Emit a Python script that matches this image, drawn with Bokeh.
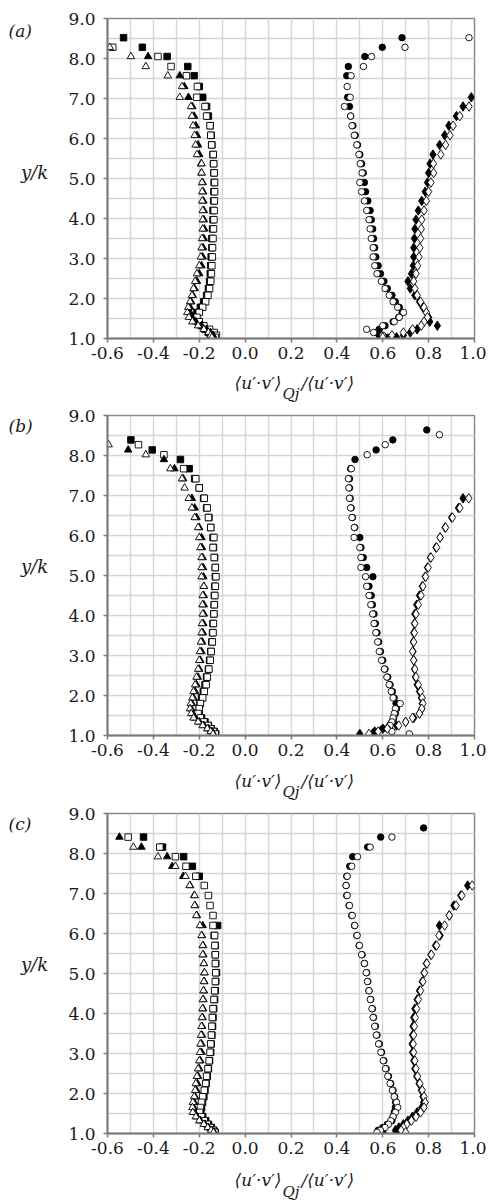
from bokeh.plotting import figure
from bokeh.layouts import column, row
from bokeh.models import FixedTicker, Label, Range1d, PrintfTickFormatter
from bokeh.embed import file_html
from bokeh.resources import INLINE

# ---------------- axis ticks ----------------
X_TICKS = [-0.6, -0.4, -0.2, 0.0, 0.2, 0.4, 0.6, 0.8, 1.0]
Y_TICKS = [1.0, 2.0, 3.0, 4.0, 5.0, 6.0, 7.0, 8.0, 9.0]
X_GRID = [-0.6, -0.5, -0.4, -0.3, -0.2, -0.1, 0.0, 0.1, 0.2, 0.3, 0.4, 0.5, 0.6, 0.7, 0.8, 0.9, 1.0]
Y_GRID = [1.0, 1.5, 2.0, 2.5, 3.0, 3.5, 4.0, 4.5, 5.0, 5.5, 6.0, 6.5, 7.0, 7.5, 8.0, 8.5, 9.0]
PANEL_LETTERS = ["(a)", "(b)", "(c)"]
Y_TITLE = "y/k"
X_TITLE_MAIN = "\u27e8u\u2032\u00b7v\u2032\u27e9"
X_TITLE_SUB = "Qj"
X_TITLE_END = "/\u27e8u\u2032\u00b7v\u2032\u27e9"

# ---------------- panel (a) ----------------
YA = [8.52, 8.28, 8.05, 7.80, 7.57, 7.30, 7.03, 6.80, 6.56, 6.32,
      6.08, 5.84, 5.60, 5.37, 5.14, 4.90, 4.67, 4.44, 4.20, 3.97,
      3.74, 3.50, 3.27, 3.04, 2.82, 2.62, 2.43, 2.25, 2.08, 1.92,
      1.78, 1.65, 1.53, 1.42, 1.32, 1.23, 1.15, 1.08, 1.03]
A_sqF = [-0.530, -0.448, -0.340, -0.250, -0.222, -0.200, -0.185, -0.168, -0.160, -0.152,
         -0.148, -0.145, -0.140, -0.138, -0.136, -0.135, -0.136, -0.137, -0.140, -0.140,
         -0.142, -0.145, -0.145, -0.148, -0.150, -0.152, -0.155, -0.160, -0.168, -0.180,
         -0.195, -0.210, -0.215, -0.205, -0.190, -0.175, -0.160, -0.150, -0.145]
A_sqO = [None, -0.577, -0.380, -0.323, -0.256, -0.208, -0.211, -0.175, -0.168, -0.153,
         -0.150, -0.146, -0.139, -0.137, -0.135, -0.133, -0.133, -0.134, -0.135, -0.136,
         -0.138, -0.140, -0.142, -0.143, -0.145, -0.147, -0.150, -0.155, -0.162, -0.172,
         -0.185, -0.200, -0.210, -0.200, -0.180, -0.155, -0.135, -0.125, -0.130]
A_trF = [None, None, -0.423, None, -0.285, -0.265, -0.247, -0.230, -0.222, -0.215,
         -0.210, -0.205, -0.200, -0.192, -0.190, -0.185, -0.183, -0.182, -0.180, -0.180,
         -0.178, -0.180, -0.183, -0.185, -0.190, -0.200, -0.210, -0.220, -0.228, -0.235,
         -0.240, -0.240, -0.232, -0.215, -0.190, -0.168, -0.152, -0.140, -0.138]
A_trO = [None, -0.590, -0.498, -0.433, -0.337, -0.275, -0.285, -0.236, -0.232, -0.227,
         -0.220, -0.216, -0.210, -0.190, -0.190, -0.188, -0.187, -0.187, -0.185, -0.185,
         -0.185, -0.188, -0.190, -0.193, -0.200, -0.210, -0.218, -0.225, -0.232, -0.240,
         -0.248, -0.252, -0.245, -0.230, -0.205, -0.180, -0.160, -0.150, -0.145]
A_ciF = [0.684, 0.598, 0.522, 0.450, 0.443, None, 0.447, 0.455, 0.460, 0.470,
         0.480, 0.490, 0.500, 0.508, 0.515, 0.520, 0.525, 0.535, 0.545, 0.550,
         0.556, 0.560, 0.565, 0.570, 0.580, 0.590, 0.605, 0.620, 0.640, 0.655,
         0.672, 0.685, 0.670, 0.645, 0.610, 0.585, 0.570, 0.585, 0.620]
A_ciO = [0.976, 0.697, 0.551, 0.516, 0.462, 0.445, 0.458, 0.433, 0.460, 0.466,
         0.476, 0.487, 0.496, 0.502, 0.510, 0.500, 0.508, 0.520, 0.530, 0.540,
         0.545, 0.550, 0.558, 0.558, 0.565, 0.575, 0.594, 0.610, 0.628, 0.645,
         0.665, 0.690, 0.672, 0.650, 0.600, 0.530, 0.560, 0.600, 0.640]
A_diF = [None, None, None, None, None, None, 0.986, 0.950, 0.921, 0.888,
         0.870, 0.848, 0.819, 0.806, 0.800, 0.795, 0.785, 0.770, 0.755, 0.745,
         0.740, 0.738, 0.735, 0.735, 0.733, 0.725, 0.710, 0.720, 0.740, 0.760,
         0.775, 0.790, 0.800, 0.805, 0.838, 0.750, 0.720, 0.690, 0.660]
A_diO = [None, None, None, None, None, None, None, 0.976, 0.936, 0.907,
         0.893, 0.874, 0.853, 0.821, 0.822, 0.810, 0.800, 0.790, 0.780, 0.770,
         0.768, 0.765, 0.762, 0.758, 0.752, 0.745, 0.735, 0.740, 0.750, 0.765,
         0.780, 0.790, 0.795, 0.780, 0.768, 0.730, 0.690, 0.640, 0.600]

# ---------------- panel (b) ----------------
YB = [8.64, 8.52, 8.39, 8.27, 8.14, 8.02, 7.90, 7.67, 7.42, 7.19,
      6.93, 6.69, 6.45, 6.20, 5.95, 5.70, 5.45, 5.20, 4.97, 4.73,
      4.50, 4.27, 4.04, 3.80, 3.57, 3.34, 3.10, 2.88, 2.66, 2.46,
      2.27, 2.10, 1.94, 1.80, 1.67, 1.55, 1.44, 1.34, 1.25, 1.17,
      1.10, 1.04]
B_sqF = [None, None, -0.498, None, -0.405, None, -0.282, -0.244, -0.220, -0.200,
         -0.180, -0.168, -0.158, -0.150, -0.140, -0.138, -0.133, -0.130, -0.130, -0.132,
         -0.134, -0.135, -0.137, -0.140, -0.142, -0.145, -0.150, -0.155, -0.160, -0.168,
         -0.175, -0.182, -0.190, -0.197, -0.200, -0.200, -0.190, -0.175, -0.160, -0.148,
         -0.135, -0.128]
B_sqO = [None, None, None, -0.465, None, -0.354, None, -0.268, -0.215, -0.200,
         -0.178, -0.165, -0.160, -0.150, -0.136, -0.140, -0.135, -0.130, -0.127, -0.130,
         -0.132, -0.134, -0.136, -0.138, -0.140, -0.143, -0.148, -0.152, -0.158, -0.165,
         -0.170, -0.178, -0.185, -0.195, -0.200, -0.205, -0.195, -0.180, -0.162, -0.150,
         -0.138, -0.130]
B_trF = [None, None, None, None, -0.510, None, -0.354, -0.308, -0.270, None,
         -0.232, -0.220, -0.212, -0.200, -0.190, -0.188, -0.185, -0.183, -0.182, -0.180,
         -0.180, -0.180, -0.180, -0.182, -0.184, -0.187, -0.190, -0.195, -0.200, -0.206,
         -0.212, -0.218, -0.225, -0.232, -0.235, -0.230, -0.218, -0.200, -0.180, -0.160,
         -0.145, -0.138]
B_trO = [None, None, None, -0.595, None, -0.433, None, -0.326, -0.275, -0.264,
         -0.246, -0.232, -0.220, -0.205, -0.200, -0.195, -0.190, -0.190, -0.190, -0.180,
         -0.185, -0.186, -0.185, -0.188, -0.190, -0.193, -0.197, -0.200, -0.205, -0.212,
         -0.218, -0.225, -0.230, -0.237, -0.240, -0.235, -0.225, -0.205, -0.185, -0.165,
         -0.150, -0.140]
B_ciF = [0.792, None, 0.644, None, 0.571, None, 0.479, 0.460, 0.455, 0.455,
         0.458, 0.462, 0.468, 0.478, 0.500, 0.505, 0.515, 0.530, 0.557, 0.540,
         0.550, 0.555, 0.562, 0.568, 0.575, 0.582, 0.590, 0.600, 0.610, 0.622,
         0.632, 0.642, 0.650, 0.658, 0.660, 0.655, 0.648, 0.640, 0.630, 0.600,
         0.565, None]
B_ciO = [None, 0.847, None, 0.611, None, 0.532, None, 0.463, 0.450, 0.452,
         0.455, 0.460, 0.466, 0.476, 0.475, 0.500, 0.505, 0.505, 0.525, 0.530,
         0.540, 0.548, 0.556, 0.562, 0.570, 0.578, 0.585, 0.595, 0.607, 0.618,
         0.628, 0.637, 0.645, 0.676, 0.655, 0.650, 0.645, 0.640, 0.632, 0.620,
         0.640, 0.716]
B_diF = [None, None, None, None, None, None, None, None, None, None,
         0.950, 0.930, 0.900, 0.872, 0.850, 0.832, 0.808, 0.795, 0.785, 0.772,
         0.760, 0.748, 0.740, 0.738, 0.735, 0.733, 0.732, 0.735, 0.738, 0.742,
         0.750, 0.760, 0.768, 0.772, 0.770, 0.760, 0.735, 0.700, 0.660, 0.600,
         0.565, 0.500]
B_diO = [None, None, None, None, None, None, None, None, None, None,
         0.975, 0.936, 0.904, 0.874, 0.850, 0.835, 0.810, 0.798, 0.787, 0.775,
         0.767, 0.755, 0.745, 0.740, 0.738, 0.735, 0.730, 0.735, 0.740, 0.745,
         0.755, 0.765, 0.772, 0.775, 0.770, 0.760, 0.730, 0.700, 0.670, 0.620,
         0.580, 0.540]

# ---------------- panel (c) ----------------
YC = [8.64, 8.41, 8.16, 7.92, 7.68, 7.43, 7.20, 6.95, 6.70, 6.45,
      6.20, 5.95, 5.70, 5.47, 5.25, 5.02, 4.80, 4.57, 4.35, 4.12,
      3.90, 3.68, 3.46, 3.24, 3.03, 2.82, 2.62, 2.43, 2.25, 2.08,
      1.92, 1.78, 1.65, 1.53, 1.42, 1.32, 1.23, 1.15, 1.08, 1.03]
C_sqF = [None, -0.443, -0.360, -0.268, -0.230, -0.200, None, None, None, None,
         -0.120, -0.135, -0.130, -0.130, -0.128, -0.125, -0.128, -0.130, -0.133, -0.137,
         -0.140, -0.142, -0.145, -0.148, -0.150, -0.155, -0.160, -0.165, -0.170, -0.175,
         -0.180, -0.186, -0.190, -0.193, -0.185, -0.172, -0.160, -0.148, -0.137, -0.130]
C_sqO = [None, -0.510, -0.372, -0.304, -0.258, -0.215, -0.178, -0.160, -0.153, -0.140,
         -0.140, -0.133, -0.132, -0.130, -0.130, -0.128, -0.130, -0.133, -0.136, -0.140,
         -0.143, -0.145, -0.147, -0.150, -0.153, -0.157, -0.162, -0.168, -0.172, -0.178,
         -0.185, -0.190, -0.195, -0.198, -0.190, -0.178, -0.165, -0.152, -0.140, -0.132]
C_trF = [None, -0.548, -0.452, -0.340, -0.318, -0.270, -0.240, -0.222, -0.218, -0.210,
         -0.185, -0.188, -0.183, -0.182, -0.180, -0.178, -0.178, -0.180, -0.182, -0.183,
         -0.185, -0.187, -0.188, -0.190, -0.190, -0.195, -0.200, -0.205, -0.208, -0.212,
         -0.218, -0.222, -0.225, -0.222, -0.210, -0.195, -0.175, -0.160, -0.145, -0.135]
C_trO = [None, None, -0.487, -0.380, -0.304, -0.260, -0.242, -0.220, -0.220, -0.213,
         -0.197, -0.190, -0.185, -0.185, -0.180, -0.177, -0.180, -0.182, -0.184, -0.186,
         -0.188, -0.190, -0.192, -0.195, -0.197, -0.200, -0.205, -0.210, -0.215, -0.218,
         -0.222, -0.228, -0.230, -0.228, -0.215, -0.200, -0.180, -0.163, -0.148, -0.138]
C_ciF = [0.778, 0.591, 0.534, 0.469, 0.456, 0.443, 0.440, 0.443, 0.453, 0.465,
         0.477, 0.487, 0.497, 0.510, 0.520, 0.530, 0.535, 0.540, 0.548, 0.555,
         0.560, 0.568, 0.575, 0.585, 0.595, 0.605, 0.615, 0.625, 0.635, 0.645,
         0.652, 0.656, 0.655, 0.650, 0.645, 0.640, 0.620, 0.600, 0.580, 0.600]
C_ciO = [None, 0.640, 0.545, 0.490, 0.465, 0.445, 0.440, 0.445, 0.455, 0.467,
         0.478, 0.488, 0.498, 0.508, 0.520, 0.528, 0.533, 0.540, 0.546, 0.553,
         0.558, 0.565, 0.572, 0.582, 0.592, 0.602, 0.612, 0.622, 0.632, 0.642,
         0.650, 0.660, 0.665, 0.655, 0.645, 0.635, 0.625, 0.610, 0.590, 0.575]
C_diF = [None, None, None, None, None, None, 0.970, 0.940, 0.910, 0.890,
         0.847, 0.850, 0.830, 0.810, 0.790, 0.780, 0.772, 0.760, 0.750, 0.740,
         0.735, 0.732, 0.730, 0.728, 0.730, 0.735, 0.740, 0.748, 0.758, 0.768,
         0.775, 0.778, 0.770, 0.750, 0.730, 0.710, 0.690, 0.670, 0.655, 0.660]
C_diO = [None, None, None, None, None, None, 0.990, 0.945, 0.920, 0.890,
         0.870, 0.845, 0.835, 0.812, 0.792, 0.782, 0.775, 0.765, 0.755, 0.748,
         0.742, 0.738, 0.735, 0.733, 0.735, 0.740, 0.745, 0.752, 0.762, 0.772,
         0.780, 0.785, 0.780, 0.765, 0.745, 0.725, 0.705, 0.690, 0.680, 0.700]

PANELS = [
    (YA, [A_sqF, A_sqO, A_trF, A_trO, A_ciF, A_ciO, A_diF, A_diO]),
    (YB, [B_sqF, B_sqO, B_trF, B_trO, B_ciF, B_ciO, B_diF, B_diO]),
    (YC, [C_sqF, C_sqO, C_trF, C_trO, C_ciF, C_ciO, C_diF, C_diO]),
]
STYLES = [("square", True, 6.5), ("square", False, 6.5),
          ("triangle", True, 7.5), ("triangle", False, 7.5),
          ("circle", True, 6.5), ("circle", False, 6.5),
          ("diamond", True, 9.5), ("diamond", False, 9.5)]

SERIF = "DejaVu Serif"
TXT = "#1a1a1a"
LEFT_W = 65                      # strip holding panel letter and y title
FRAME_W, FRAME_H = 371, 320
BORDER_L, BORDER_R = 38, 12
FIG_W = BORDER_L + FRAME_W + BORDER_R
FULL_W = LEFT_W + FIG_W
TOP_BORDERS = [18, 12, 12]
BOTTOM_BORDER = 32
STRIP_H = [33, 34, 37]           # strips holding the x titles
STRIP_Y = [(12, 23), (13, 24), (14, 26)]
LETTER_Y = [3, 0, 0]             # top of the panel letter inside the left strip


def blank(w, h):
    f = figure(width=w, height=h, x_range=Range1d(0, w), y_range=Range1d(h, 0),
               x_axis_type=None, y_axis_type=None, output_backend="svg",
               toolbar_location=None, min_border=0)
    f.title.visible = False
    f.outline_line_color = None
    f.background_fill_color = "white"
    f.border_fill_color = "white"
    return f


def add_text(f, x, y, text, size, align="left", baseline="middle"):
    f.add_layout(Label(x=x, y=y, text=text, text_font=SERIF, text_font_size=size,
                       text_font_style="italic", text_color=TXT,
                       text_align=align, text_baseline=baseline))


items = []
for i, (levels, series) in enumerate(PANELS):
    tb = TOP_BORDERS[i]
    fig_h = tb + FRAME_H + BOTTOM_BORDER
    p = figure(width=FIG_W, height=fig_h,
               x_range=Range1d(-0.6, 1.0), y_range=Range1d(1.0, 9.0),
               output_backend="svg", toolbar_location=None,
               min_border_left=BORDER_L, min_border_right=BORDER_R,
               min_border_top=tb, min_border_bottom=BOTTOM_BORDER)
    p.title.visible = False
    p.background_fill_color = "white"
    p.border_fill_color = "white"
    p.outline_line_color = "#8a8a8a"
    p.outline_line_width = 1.5

    p.xaxis.ticker = FixedTicker(ticks=X_TICKS)
    p.yaxis.ticker = FixedTicker(ticks=Y_TICKS)
    p.xaxis.formatter = PrintfTickFormatter(format="%.1f")
    p.yaxis.formatter = PrintfTickFormatter(format="%.1f")
    for ax in (p.xaxis, p.yaxis):
        ax.axis_line_color = "#7a7a7a"
        ax.axis_line_width = 2
        ax.major_tick_line_color = "#7a7a7a"
        ax.major_tick_line_width = 1.5
        ax.major_tick_in = 0
        ax.major_tick_out = 4
        ax.minor_tick_line_color = None
        ax.major_label_text_font = SERIF
        ax.major_label_text_font_size = "17px"
        ax.major_label_text_color = TXT
    p.xaxis.major_label_standoff = 4
    p.yaxis.major_label_standoff = 8

    p.xgrid.ticker = FixedTicker(ticks=X_GRID)
    p.ygrid.ticker = FixedTicker(ticks=Y_GRID)
    for g in (p.xgrid, p.ygrid):
        g.grid_line_color = "#d6d6d6"
        g.grid_line_width = 1.4

    for xs, (marker, filled, size) in zip(series, STYLES):
        assert len(xs) == len(levels)
        px = [x for x in xs if x is not None]
        py = [y for x, y in zip(xs, levels) if x is not None]
        p.scatter(px, py, marker=marker, size=size,
                  fill_color="black" if filled else "white",
                  line_color="black", line_width=0.9)

    # left strip: panel letter + y title
    left = blank(LEFT_W, fig_h)
    add_text(left, 8, LETTER_Y[i], PANEL_LETTERS[i], "17px", baseline="top")
    add_text(left, 34, tb + FRAME_H / 2, Y_TITLE, "18px", align="center")

    # strip below: x-axis title with subscript
    sh = STRIP_H[i]
    ym, ys = STRIP_Y[i]
    strip = blank(FULL_W, sh)
    sx = 281
    add_text(strip, sx, ym, X_TITLE_MAIN, "17px", align="right")
    add_text(strip, sx + 1, ys, X_TITLE_SUB, "15px")
    add_text(strip, sx + 20, ym, X_TITLE_END, "17px")

    items.append(row(left, p, spacing=0))
    items.append(strip)

layout = column(*items, spacing=0)
open("out.html", "w").write(file_html(layout, INLINE))
